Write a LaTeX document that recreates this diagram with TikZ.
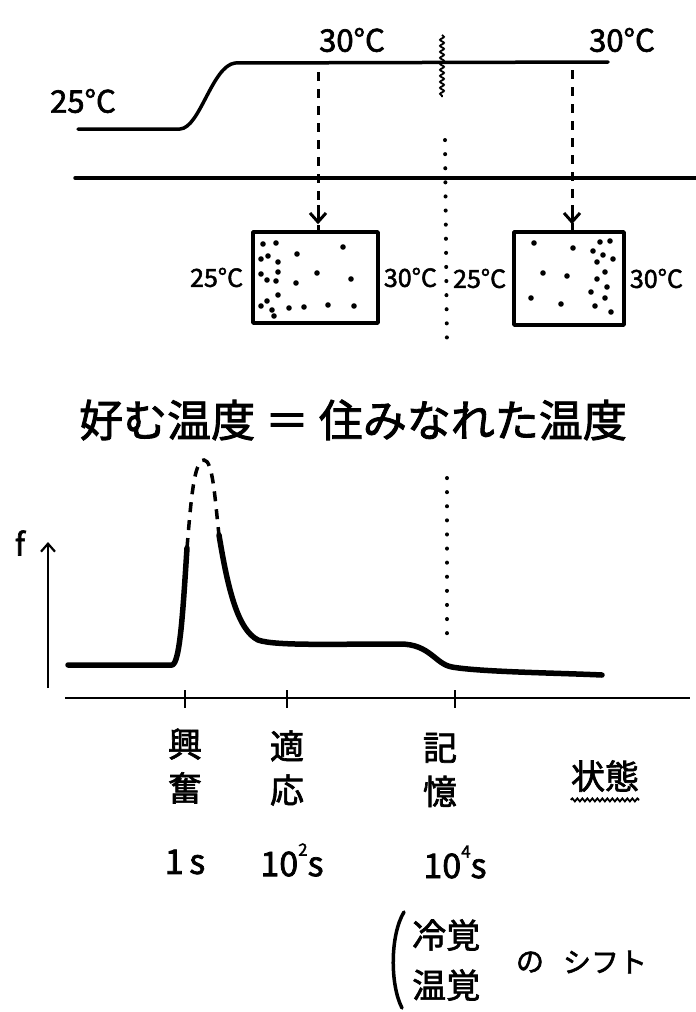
\documentclass[tikz,border=0pt]{standalone}
\usepackage{fontspec}
\setmainfont{Noto Sans CJK JP}[FakeBold=2]
\usetikzlibrary{decorations.pathmorphing,arrows.meta}
\begin{document}
\begin{tikzpicture}[x=1pt,y=-1pt,
  ink/.style={line width=3.5pt, line cap=round, line join=round},
  curve/.style={line width=5.5pt, line cap=round, line join=round},
  dashln/.style={line width=3pt, dash pattern=on 9pt off 8pt},
  dotln/.style={line width=4pt, dash pattern=on 0.1pt off 14pt, line cap=round},
  thinln/.style={line width=2.2pt},
  big/.style={inner sep=0pt, font=\fontsize{31}{36}\selectfont},
  small/.style={inner sep=0pt, font=\fontsize{25}{28}\selectfont},
  title/.style={inner sep=0pt, font=\fontsize{44}{50}\selectfont},
  kanji/.style={inner sep=0pt, align=center, font=\fontsize{34}{44}\selectfont},
  num/.style={inner sep=0pt, font=\fontsize{34}{38}\selectfont},
  dot/.style={fill=black},
  tip/.style={-{Straight Barb[length=9pt,width=16pt,line width=3pt]}}
]
\useasboundingbox (0,0) rectangle (696,1012);

% ---------- top temperature step ----------
\coordinate (l0) at (78,129);
\coordinate (l1) at (180,129);
\coordinate (u0) at (235,63);
\coordinate (u1) at (608,62);
\draw[ink] (l0) -- (l1) .. controls (200,128) and (212,66) .. (u0) -- (u1);
\node[big] (t25) at (83,101) {25°C};
\node[big] (t30a) at (352,40) {30°C};
\node[big] (t30b) at (622,40) {30°C};
\coordinate (w0) at (442,35);
\coordinate (w1) at (442,97);
\draw[line width=1.8pt, decorate, decoration={snake, amplitude=2pt, segment length=6pt}] (w0) -- (w1);

\coordinate (h0) at (75,178);
\coordinate (h1) at (696,178);
\draw[ink] (h0) -- (h1);

% ---------- boxes ----------
\node[draw, ink, minimum width=125pt, minimum height=91pt, inner sep=0pt] (box1) at (315.5,277.5) {};
\node[draw, ink, minimum width=110pt, minimum height=93pt, inner sep=0pt] (box2) at (569,278.5) {};

\coordinate (a1) at (318,72);
\coordinate (a2) at (572,70);
\draw[dashln] (a1) -- ([yshift=-2pt]box1.north -| a1);
\draw[tip, line width=3pt] (318,205) -- ([yshift=6pt]box1.north -| a1);
\draw[dashln] (a2) -- ([yshift=-2pt]box2.north -| a2);
\draw[tip, line width=3pt] (572,205) -- ([yshift=6pt]box2.north -| a2);

\node[small, anchor=east] (b1l) at ([xshift=-8pt]box1.west) {25°C};
\node[small, anchor=west] (b1r) at ([xshift=4pt]box1.east) {30°C};
\node[small, anchor=east] (b2l) at ([xshift=-6pt]box2.west) {25°C};
\node[small, anchor=west] (b2r) at ([xshift=4pt]box2.east) {30°C};

\foreach \p in {(263,244),(276,243),(343,247),(268,256),(261,259),(297,254),(278,262),(261,274),(278,272),(317,273),(351,279),(267,280),(276,281),(296,283),(278,295),(267,301),(261,306),(289,308),(304,307),(328,305),(354,306),(272,310),(274,316)}
  \fill[dot] \p circle (2.8pt);
\foreach \p in {(534,243),(573,248),(600,242),(610,241),(593,251),(603,255),(613,259),(597,262),(543,273),(567,276),(605,272),(597,279),(607,287),(591,292),(605,298),(531,298),(561,304),(595,306),(611,312)}
  \fill[dot] \p circle (2.8pt);

\coordinate (d0) at (445,140);
\coordinate (d1) at (447,350);
\draw[dotln] (d0) -- (d1);

% ---------- title ----------
\node[title] (ttl) at (353,420) {好む温度 ＝ 住みなれた温度};

% ---------- graph ----------
\node[big] (f) at (20,543) {f};
\coordinate (y0) at (48,688);
\coordinate (y1) at (48,542);
\draw[line width=2.2pt, -{Straight Barb[length=8pt,width=14pt,line width=2.2pt]}] (y0) -- (y1);
\coordinate (x0) at (65,698);
\coordinate (x1) at (690,698);
\draw[thinln] (x0) -- (x1);
\foreach \tx/\nm in {185/k1,287/k2,455/k3}{
  \coordinate (\nm) at (\tx,698);
  \draw[thinln] ([yshift=8pt]\nm) -- ([yshift=-10pt]\nm);
}

\coordinate (c0) at (68,665);
\coordinate (c1) at (172,665);
\coordinate (c2) at (187,548);
\coordinate (pk) at (204,460);
\coordinate (c3) at (219,535);
\draw[curve] (c0) -- (c1) .. controls (180,664) and (183,610) .. (c2);
\draw[line width=3.5pt, dash pattern=on 10pt off 8pt] (c2) .. controls (191,500) and (194,460) .. (pk) .. controls (213,460) and (215,500) .. (c3);
\draw[curve] (c3) .. controls (228,590) and (238,630) .. (258,640)
  .. controls (275,646) and (330,644) .. (400,644)
  .. controls (430,644) and (435,664) .. (452,667)
  .. controls (480,672) and (560,673) .. (602,675);
\draw[dotln] (447,478) -- (447,642);

% ---------- labels under axis ----------
\node[kanji] (s1) at (185,766) {興\\奮};
\node[kanji] (s2) at (287,768) {適\\応};
\node[kanji] (s3) at (440,770) {記\\憶};
\node[kanji] (s4) at (605,776) {状態};
\draw[line width=1.8pt, decorate, decoration={snake, amplitude=1.5pt, segment length=5pt}] ([yshift=-8pt]s4.south west) -- ([yshift=-8pt]s4.south east);

\node[num] (n1) at (185,862) {1\,s};
\node[num] (n2) at (292,860) {10\raisebox{0.6em}{\fontsize{17}{18}\selectfont 2}s};
\node[num] (n3) at (455,862) {10\raisebox{0.6em}{\fontsize{17}{18}\selectfont 4}s};

% ---------- shift note ----------
\coordinate (br0) at (404,912);
\coordinate (br1) at (402,1008);
\draw[line width=3.5pt, line cap=round] (br0) .. controls (390,935) and (390,985) .. (br1);
\node[kanji, anchor=west] (cold) at (412,935) {冷覚};
\node[kanji, anchor=west] (warm) at (412,985) {温覚};
\node[kanji, font=\fontsize{28}{32}\selectfont] (no) at (530,962) {の};
\node[kanji, font=\fontsize{28}{32}\selectfont] (shift) at (605,962) {シフト};
\end{tikzpicture}
\end{document}
